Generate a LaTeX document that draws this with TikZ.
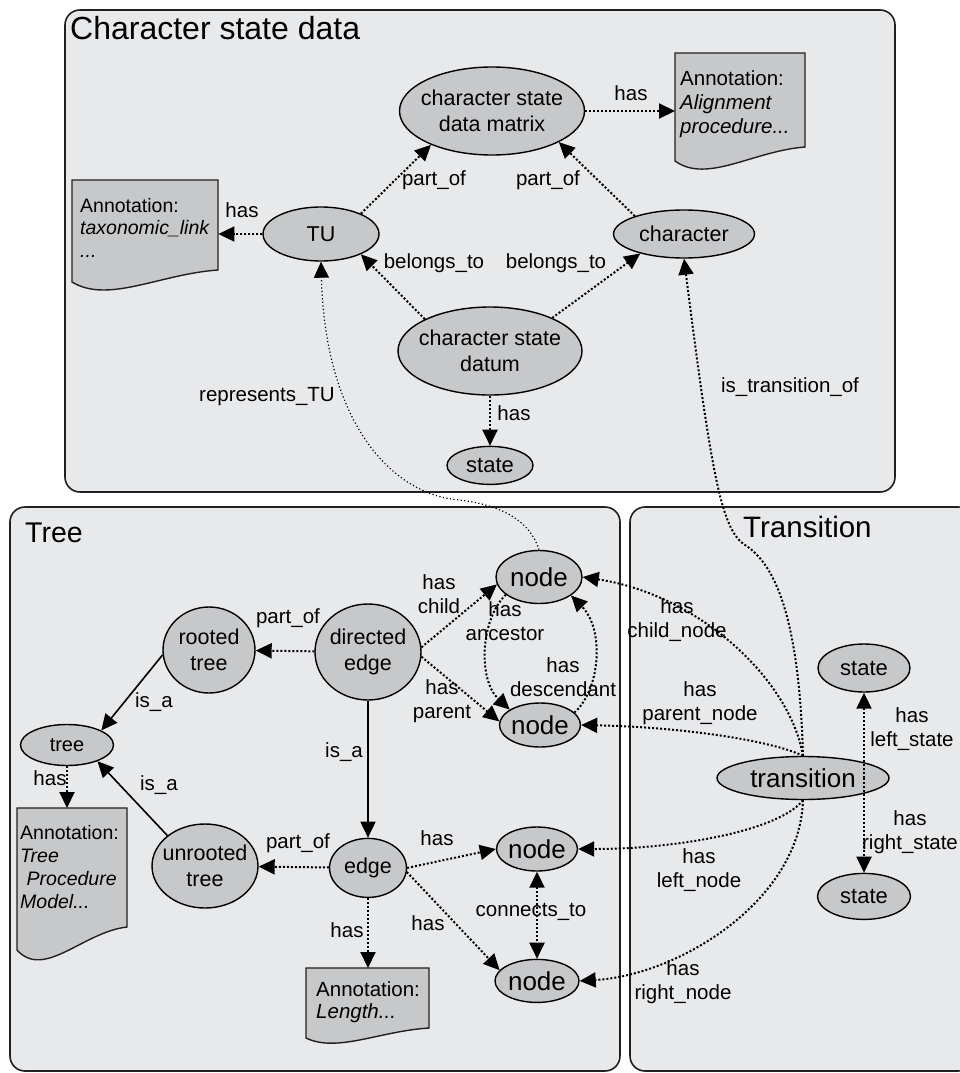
\documentclass[tikz,border=0pt]{standalone}
\usepackage{fontspec}
\setmainfont{Liberation Sans}
\usetikzlibrary{positioning,arrows.meta,shapes.geometric}
\definecolor{panelGray}{HTML}{E8E9EB}
\definecolor{conceptGray}{HTML}{C7C8CA}
\definecolor{frameGray}{HTML}{231F20}

\begin{document}
\begin{tikzpicture}[x=1pt, y=-1pt, >={Triangle[length=16pt,width=15pt]}]
\tikzset{
    panelStyle/.style={draw=frameGray, line width=1.6pt, fill=panelGray, rounded corners=15pt},
    titleStyle/.style={anchor=base west, inner sep=0pt, font=\fontsize{32}{36}\selectfont},
    conceptStyle/.style={ellipse, draw=black, line width=1.4pt, fill=conceptGray, inner xsep=-10pt, inner ysep=0pt, align=center, font=\fontsize{21.5}{25.5}\selectfont},
    ellSize/.style 2 args={minimum width=#1pt, minimum height=#2pt},
    annoLine/.style={draw=frameGray, line width=1.4pt, fill=conceptGray},
    annoText/.style={anchor=north west, align=left, inner ysep=17pt, font=\fontsize{20}{23}\selectfont},
    hasArrow/.style={->, line width=2pt, dash pattern=on 2pt off 2pt},
    isaArrow/.style={->, line width=1.6pt},
    thinArrow/.style={->, line width=1.2pt, dash pattern=on 1.2pt off 2.4pt},
    lbl/.style={font=\fontsize{20.5}{23.5}\selectfont, align=center, inner sep=0pt}
}

\useasboundingbox (0,0) rectangle (960,1073);
\clip (0,0) rectangle (960,1073);

% panels
\draw[panelStyle] (65,10) rectangle (895,492);
\draw[panelStyle] (10,507) rectangle (620,1071);
\draw[panelStyle] (630,507) rectangle (973,1071);

\node[titleStyle] (csdTitle) at (70,40) {Character state data};
\node[titleStyle, font=\fontsize{28.5}{32}\selectfont] (treeTitle) at (25,542) {Tree};
\node[titleStyle, font=\fontsize{29.5}{33}\selectfont] (transTitle) at (743,537) {Transition};

% annotation sheets
\draw[annoLine] (72,180) -- (218,180) -- (218,270) .. controls (160,274) and (108,304) .. (72,282) -- cycle;
\draw[annoLine] (675,53) -- (805,53) -- (805,147) .. controls (753,151) and (707,184) .. (675,161) -- cycle;
\draw[annoLine] (17,808) -- (127,808) -- (127,927) .. controls (83,932) and (44,980) .. (17,950) -- cycle;
\draw[annoLine] (306,968) -- (429,968) -- (429,1028) .. controls (380,1031) and (337,1053) .. (306,1038) -- cycle;

\node[annoText, text width=130pt, inner xsep=8pt, font=\fontsize{19.5}{22.5}\selectfont, inner ysep=18pt] (taxAnno) at (72,180) {Annotation:\\\textit{taxonomic\_link}\\\textit{...}};
\node[annoText, text width=120pt, inner xsep=5pt, font=\fontsize{20.5}{24}\selectfont] (alignAnno) at (675,53) {Annotation:\\\textit{Alignment}\\\textit{procedure...}};
\node[annoText, text width=104pt, inner xsep=3pt, font=\fontsize{19.5}{23}\selectfont] (treeAnno) at (17,808) {Annotation:\\\textit{Tree}\\\textit{ Procedure}\\\textit{Model...}};
\node[annoText, text width=103pt, inner xsep=10pt, font=\fontsize{20.5}{22.5}\selectfont, inner ysep=13pt] (lenAnno) at (306,968) {Annotation:\\\textit{Length...}};

% character state data
\node[conceptStyle, ellSize={185}{88}] (csdm) at (492,111) {character state\\data matrix};
\node[conceptStyle, ellSize={116}{54}] (TU) at (321,234) {TU};
\node[conceptStyle, ellSize={141}{48}] (char) at (684,234) {character};
\node[conceptStyle, ellSize={184}{88}] (csd) at (490,351) {character state\\datum};
\node[conceptStyle, ellSize={86}{38}, font=\fontsize{22}{26}\selectfont, below=50pt of csd] (st0) {state};

% tree
\node[conceptStyle, ellSize={92}{86}] (rt) at (209,650) {rooted\\tree};
\node[conceptStyle, ellSize={106}{96}] (de) at (368,652) {directed\\edge};
\node[conceptStyle, ellSize={93}{41}, font=\fontsize{20}{24}\selectfont] (tree) at (67,745) {tree};
\node[conceptStyle, ellSize={106}{84}] (ut) at (205,866) {unrooted\\tree};
\node[conceptStyle, ellSize={77}{59}, below=137pt of de] (edge) {edge};
\node[conceptStyle, ellSize={86}{53}, font=\fontsize{26}{30}\selectfont] (n1) at (539,577) {node};
\node[conceptStyle, ellSize={81}{44}, font=\fontsize{26}{30}\selectfont] (n2) at (540,725) {node};
\node[conceptStyle, ellSize={81}{44}, font=\fontsize{26}{30}\selectfont] (n3) at (537,849) {node};
\node[conceptStyle, ellSize={84}{43}, font=\fontsize{26}{30}\selectfont, below=87pt of n3] (n4) {node};

% transition
\node[conceptStyle, ellSize={172}{43}, font=\fontsize{26}{30}\selectfont] (tr) at (803,778) {transition};
\node[conceptStyle, ellSize={92}{48}, font=\fontsize{22}{26}\selectfont] (st1) at (864,668) {state};
\node[conceptStyle, ellSize={93}{46}, font=\fontsize{22}{26}\selectfont, below=180pt of st1] (st2) {state};

% labels
\node[lbl] (lHasAlign) at (631,93) {has};
\node[lbl] (lHasTax) at (242,210) {has};
\node[lbl] (lPartTU) at (434,180) {part\_of};
\node[lbl] (lPartChar) at (548,180) {part\_of};
\node[lbl] (lBelTU) at (434,263) {belongs\_to};
\node[lbl] (lBelChar) at (556,263) {belongs\_to};
\node[lbl] (lHasState) at (514,413) {has};
\node[lbl] (lRepTU) at (267,397) {represents\_TU};
\node[lbl] (lTransOf) at (790,387) {is\_transition\_of};
\node[lbl] (lPartRt) at (288,618) {part\_of};
\node[lbl] (lIsaRt) at (154,702) {is\_a};
\node[lbl] (lIsaUt) at (159,785) {is\_a};
\node[lbl] (lHasTree) at (50,778) {has};
\node[lbl] (lChild) at (439,594) {has\\child};
\node[lbl] (lParent) at (442,701) {has\\parent};
\node[lbl] (lIsaEdge) at (344,752) {is\_a};
\node[lbl] (lAnc) at (505,621) {has\\ancestor};
\node[lbl] (lDesc) at (563,677) {has\\descendant};
\node[lbl] (lChildNode) at (677,620) {has\\child\_node};
\node[lbl] (lParentNode) at (700,703) {has\\parent\_node};
\node[lbl] (lLeftState) at (912,729) {has\\left\_state};
\node[lbl] (lRightState) at (910,832) {has\\right\_state};
\node[lbl] (lPartUt) at (298,843) {part\_of};
\node[lbl] (lHasN3) at (437,838) {has};
\node[lbl] (lHasN4) at (428,923) {has};
\node[lbl] (lHasLen) at (347,930) {has};
\node[lbl] (lConnects) at (531,912) {connects\_to};
\node[lbl] (lLeftNode) at (699,870) {has\\left\_node};
\node[lbl] (lRightNode) at (683,982) {has\\right\_node};

% connectors
\draw[hasArrow] (csdm.east) -- (csdm.east -| alignAnno.west);
\draw[hasArrow] (TU.west) -- (TU.west -| taxAnno.east);
\draw[hasArrow] (TU.27) -- (csdm.209);
\draw[hasArrow] (char.160) -- (csdm.335);
\draw[hasArrow] (csd.154) -- (TU.333);
\draw[hasArrow] (csd.28) -- (char.204);
\draw[hasArrow] (csd) -- (st0);

\draw[hasArrow] (de) -- (rt);
\draw[isaArrow] (rt.186) -- (tree.23);
\draw[isaArrow] (ut.141) -- (tree.332);
\draw[hasArrow] (tree) -- (tree |- treeAnno.north);
\draw[isaArrow] (de) -- (edge);
\draw[hasArrow] (edge) -- (ut);
\draw[hasArrow] (edge) -- (edge |- lenAnno.north);
\draw[hasArrow] (edge.east) -- (n3.west);
\draw[hasArrow] (edge.354) -- (n4.164);
\draw[hasArrow, <->] (n3.south) -- (n3.south |- n4.north);
\draw[hasArrow] (de.5) -- (n1.190);
\draw[hasArrow] (de.355) -- (n2.175);
\draw[hasArrow] (n1.208) .. controls (480,620) and (478,680) .. (n2.153);
\draw[hasArrow] (n2.20) .. controls (600,690) and (605,630) .. (n1.330);
\draw[thinArrow] (n1.north) .. controls (530,520) and (500,505) .. (460,500) .. controls (390,495) and (325,420) .. (TU.south);

\draw[hasArrow] (tr.north) .. controls (800,650) and (785,570) .. (745,545) .. controls (722,530) and (712,480) .. (char.south);
\draw[hasArrow] (tr.north) .. controls (790,680) and (700,595) .. (n1.east);
\draw[hasArrow] (tr.north) .. controls (770,740) and (680,727) .. (n2.east);
\draw[hasArrow] (tr.south) .. controls (780,830) and (680,849) .. (n3.east);
\draw[hasArrow] (tr.south) .. controls (800,900) and (680,975) .. (n4.east);
\draw[hasArrow] (tr.center -| st1.south) -- (st1.south);
\draw[hasArrow] (tr.center -| st2.north) -- (st2.north);

\end{tikzpicture}
\end{document}
